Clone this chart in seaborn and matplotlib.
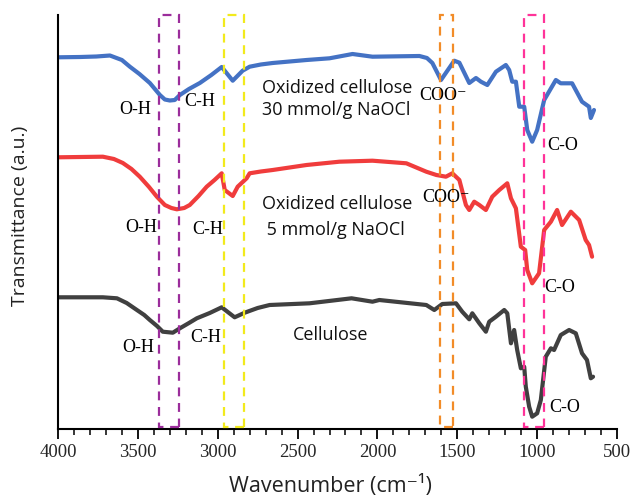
import numpy as np
import pandas as pd
import matplotlib
matplotlib.use("Agg")
import matplotlib.pyplot as plt
import seaborn as sns
from matplotlib.patches import Rectangle
from matplotlib.ticker import MultipleLocator

# ---- data (wavenumber cm-1, transmittance a.u. with vertical offsets) ----
blue_x = [4000, 3862, 3760, 3675, 3600, 3550, 3490, 3425, 3362, 3331, 3300, 3269, 3237, 3180,
          3112, 3040, 2975, 2906, 2844, 2800, 2730, 2656, 2444, 2300, 2156, 2031, 1737, 1690,
          1656, 1602, 1519, 1487, 1425, 1383, 1352, 1312,
          1258, 1196, 1175, 1156, 1133, 1112, 1081, 1062, 1031, 1000, 956, 883, 852, 781,
          719, 675, 664, 644]
blue_y = [371.7, 372, 372.5, 373.5, 369, 362.3, 355, 346, 334, 329.5, 328.5, 329, 334, 340,
          346, 354, 362, 348.3, 358.3, 362.3, 364.5, 366, 369, 370.7, 375, 372.3, 373, 371,
          366, 349, 368.3, 366.3, 346, 351, 347.3, 344,
          357.3, 364, 359, 347.3, 347.3, 322.3, 322.3, 299, 287.3, 299, 329, 349, 345.7, 345.7,
          327.3, 322.3, 311, 319]

red_x = [4000, 3719, 3650, 3594, 3540, 3488, 3430, 3381, 3331, 3290, 3256, 3210, 3175, 3120,
         3069, 3020, 2975, 2956, 2906, 2875, 2819,
         2800, 2730, 2656, 2444, 2238, 2031, 1819, 1694, 1631, 1571, 1531, 1487, 1446, 1425, 1394,
         1362, 1321, 1281, 1237, 1187, 1164, 1133, 1102, 1075, 1062, 1031, 988, 956, 914,
         875, 844, 789, 737, 696, 675, 656]
red_y = [271.7, 272.3, 270, 266, 260, 252.3, 242, 232.3, 224, 221, 219.7, 221, 224, 233,
         242.3, 249, 255.7, 239, 233, 242.3, 250.7,
         255.7, 257.5, 259, 264, 267.3, 268.3, 265.7, 257.3, 254, 252.3, 255.7, 249, 224, 219, 227.3,
         224, 219, 232.3, 239, 245.7, 230.7, 220.7, 182.3, 179, 159, 145.7, 155.7, 199, 207.3,
         219, 204, 217.3, 209, 189, 184, 172.3]

gray_x = [4000, 3719, 3631, 3570, 3506, 3460, 3425, 3380, 3344, 3281, 3237, 3180, 3131, 3050,
          2975, 2894, 2831, 2750, 2675, 2425,
          2162, 2031, 1988, 1694, 1644, 1594, 1508, 1469, 1425, 1406, 1362, 1321, 1300, 1258,
          1206, 1187, 1164, 1144, 1125, 1102, 1081, 1071, 1050, 1031, 1000, 977, 946, 914,
          894, 852, 800, 758, 719, 688, 664, 650]
gray_y = [131.7, 131.7, 130.7, 126, 119, 114, 109, 103, 97.3, 96.3, 100.7, 106, 110.7, 116,
          121.7, 111.7, 116.3, 121, 124, 125.7,
          130.7, 127.3, 129, 124, 119, 125, 125.7, 117.3, 109.7, 115.7, 105.7, 97.3, 107.3, 112.3,
          119, 115.7, 85.7, 99, 79, 60.7, 62.3, 42.3, 22.3, 12.3, 15.7, 29, 72.3, 80.7,
          79, 94, 99, 95.7, 75.7, 69, 50.7, 52.3]

series_names = ["Oxidized cellulose 30 mmol/g NaOCl", "Oxidized cellulose 5 mmol/g NaOCl", "Cellulose"]
xticks = [4000, 3500, 3000, 2500, 2000, 1500, 1000, 500]

# band regions (wavenumber ranges)
band_ranges = [(3244, 3369), (2836, 2960), (1529, 1606), (956, 1081)]

# ---- figure ----
sns.set_theme(style="white")
plt.rcParams["font.family"] = ["Liberation Serif", "DejaVu Serif"]

fig = plt.figure(figsize=(6.32, 4.99), dpi=100)
ax = fig.add_axes([58/632, 1-429/499, (617-58)/632, (429-15)/499])

colors = ["#4472C4", "#F03C3C", "#404040"]
for (xs, ys), name, c in zip([(blue_x, blue_y), (red_x, red_y), (gray_x, gray_y)], series_names, colors):
    df = pd.DataFrame({"Wavenumber": xs, "T": ys})
    sns.lineplot(data=df, x="Wavenumber", y="T", ax=ax, color=c, lw=3.0, sort=False,
                 solid_capstyle="round", solid_joinstyle="round")

ax.set_xlim(4000, 500)
ax.set_ylim(0, 414)
ax.set_xticks(xticks)
ax.xaxis.set_minor_locator(MultipleLocator(100))
ax.set_yticks([])
for s in ["top", "right"]:
    ax.spines[s].set_visible(False)
for s in ["left", "bottom"]:
    ax.spines[s].set_color("black")
    ax.spines[s].set_linewidth(1.5)
ax.tick_params(axis="x", which="major", direction="out", length=7, width=1.3, color="black",
               labelsize=13.5, pad=4, bottom=True)
ax.tick_params(axis="x", which="minor", direction="out", length=4, width=1.1, color="black", bottom=True)
for lab in ax.get_xticklabels():
    lab.set_family(["Liberation Serif", "DejaVu Serif"])

sans = ["Open Sans", "DejaVu Sans"]
ax.set_xlabel("Wavenumber (cm⁻¹)", family=sans, fontsize=15.5, color="#222222")
ax.set_ylabel("Transmittance (a.u.)", family=sans, fontsize=14, color="#222222")
ax.xaxis.set_label_coords(0.487, -0.138)
ax.yaxis.set_label_coords(-0.068, 0.514)
ax.xaxis.label.set_va("center")
ax.yaxis.label.set_va("center")

# dashed band boxes
box_colors = ["#9B2D9B", "#F2EA1C", "#F28C28", "#FF3399"]
for (lo, hi), bc in zip(band_ranges, box_colors):
    r = Rectangle((lo, 2), hi - lo, 412, fill=False, ec=bc, lw=1.6, ls=(0, (4, 3)), clip_on=False, zorder=5)
    ax.add_patch(r)

serif = ["Liberation Serif", "DejaVu Serif"]
fs_ann = 13
def ann(x, y, s, ha="center"):
    ax.text(x, y, s, family=serif, fontsize=fs_ann, ha=ha, va="center", color="black", zorder=6)

ann(3519, 320, "O-H"); ann(3112, 327, "C-H"); ann(1587, 333, "COO⁻"); ann(837, 284, "C-O")
ann(3481, 202, "O-H"); ann(3062, 200, "C-H"); ann(1569, 232, "COO⁻"); ann(856, 142, "C-O")
ann(3500, 81, "O-H"); ann(3075, 91, "C-H"); ann(825, 22, "C-O")

def lab(x, y, s):
    ax.text(x, y, s, family=sans, fontsize=13, ha="left", va="center", color="#111111", zorder=6)

lab(2725, 341, "Oxidized cellulose"); lab(2725, 319, "30 mmol/g NaOCl")
lab(2725, 225, "Oxidized cellulose"); lab(2725, 199, " 5 mmol/g NaOCl")
lab(2531, 94, "Cellulose")

fig.savefig("out.png", dpi=100)
